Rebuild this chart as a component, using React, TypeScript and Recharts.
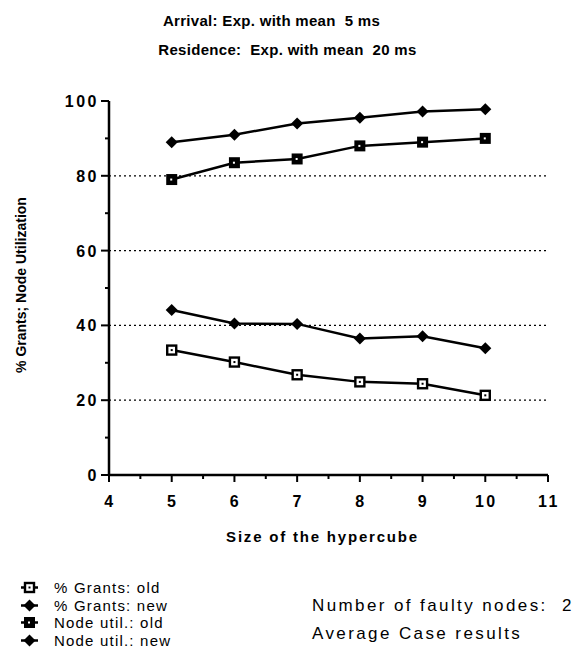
import React from 'react';
import { LineChart, Line, XAxis, YAxis, ReferenceLine, Legend, Label } from 'recharts';

const sizes = [5, 6, 7, 8, 9, 10];
const grantsOld = [33.4, 30.2, 26.8, 24.9, 24.4, 21.3];
const grantsNew = [44.1, 40.5, 40.4, 36.5, 37.1, 33.9];
const nodeOld = [79, 83.5, 84.5, 88, 89, 90];
const nodeNew = [89, 91, 94, 95.5, 97.2, 97.8];

const xTicks = [4, 4.5, 5, 5.5, 6, 6.5, 7, 7.5, 8, 8.5, 9, 9.5, 10, 10.5, 11];
const xMajor = [4, 5, 6, 7, 8, 9, 10, 11];
const yTicks = [0, 10, 20, 30, 40, 50, 60, 70, 80, 90, 100];
const yMajor = [0, 20, 40, 60, 80, 100];
const gridValues = [20, 40, 60, 80];

const seriesKeys = ['grantsOld', 'grantsNew', 'nodeOld', 'nodeNew'];
const seriesNames = ['% Grants: old', '% Grants: new', 'Node util.: old', 'Node util.: new'];
const seriesMarkers = ['squareLight', 'diamond', 'squareDark', 'diamond'];

const titleLines = ['Arrival: Exp. with mean  5 ms', 'Residence:  Exp. with mean  20 ms'];
const notes = ['Number of faulty nodes:  2', 'Average Case results'];
const xLabel = 'Size of the hypercube';
const yLabel = '% Grants; Node Utilization';

const data = sizes.map((s, i) => ({
  size: s,
  grantsOld: grantsOld[i],
  grantsNew: grantsNew[i],
  nodeOld: nodeOld[i],
  nodeNew: nodeNew[i],
}));

const FONT = '"Liberation Sans", Arial, Helvetica, sans-serif';

const Marker = ({ kind, cx, cy }: { kind: string; cx: number; cy: number }) => {
  if (kind === 'diamond') {
    const r = 6;
    return <polygon points={`${cx},${cy - r} ${cx + r},${cy} ${cx},${cy + r} ${cx - r},${cy}`} fill="#000" />;
  }
  if (kind === 'squareDark') {
    return (
      <g>
        <rect x={cx - 5.5} y={cy - 5.5} width={11} height={11} fill="#000" />
        <rect x={cx - 1.5} y={cy - 1} width={2} height={2} fill="#fff" />
      </g>
    );
  }
  return (
    <g>
      <rect x={cx - 4.5} y={cy - 4.5} width={9} height={9} fill="#fff" stroke="#000" strokeWidth={2.4} />
      <rect x={cx - 1} y={cy - 1} width={2} height={2} fill="#000" />
    </g>
  );
};

const makeDot = (kind: string) => (props: any) => {
  const { cx, cy, index } = props;
  if (cx == null || cy == null) return <g key={index} />;
  return <Marker key={index} kind={kind} cx={cx} cy={cy} />;
};

const XTick = (props: any) => {
  const { x, y, payload } = props;
  const v = payload.value;
  const major = xMajor.includes(v);
  return (
    <g>
      <line x1={x} x2={x} y1={y} y2={y + (major ? 7 : 4)} stroke="#000" strokeWidth={2} />
      {major && (
        <text x={x + 1} y={y + 32} textAnchor="middle" fontFamily={FONT} fontWeight="bold" fontSize={16} letterSpacing={2.5} fill="#000">
          {v}
        </text>
      )}
    </g>
  );
};

const YTick = (props: any) => {
  const { x, y, payload } = props;
  const v = payload.value;
  const major = yMajor.includes(v);
  return (
    <g>
      <line x1={x} x2={x - (major ? 8 : 4)} y1={y} y2={y} stroke="#000" strokeWidth={2} />
      {major && (
        <text x={x - 10} y={y + 6} textAnchor="end" fontFamily={FONT} fontWeight="bold" fontSize={16} letterSpacing={2.5} fill="#000">
          {v}
        </text>
      )}
    </g>
  );
};

const LegendContent = (props: any) => {
  const payload = [...(props.payload || [])].sort(
    (a: any, b: any) => seriesKeys.indexOf(a.dataKey) - seriesKeys.indexOf(b.dataKey)
  );
  return (
    <div style={{ fontFamily: FONT }}>
      {payload.map((item: any, i: number) => {
        const idx = seriesKeys.indexOf(item.dataKey);
        return (
          <div key={i} style={{ display: 'flex', alignItems: 'center', height: 17.5 }}>
            <svg width={41} height={17} style={{ display: 'block' }}>
              <line x1={8} x2={25} y1={8.5} y2={8.5} stroke="#000" strokeWidth={2.5} />
              <Marker kind={seriesMarkers[idx]} cx={16.5} cy={8.5} />
            </svg>
            <span style={{ fontSize: 15, letterSpacing: 1.2, color: '#000', whiteSpace: 'pre' }}>{item.value}</span>
          </div>
        );
      })}
    </div>
  );
};

const YLabelContent = (props: any) => {
  const { viewBox } = props;
  const cx = 21;
  const cy = viewBox.y + viewBox.height / 2 - 3;
  return (
    <text
      x={cx}
      y={cy}
      transform={`rotate(-90, ${cx}, ${cy})`}
      textAnchor="middle"
      dominantBaseline="central"
      fontFamily={FONT}
      fontWeight="bold"
      fontSize={14}
      letterSpacing={0}
      fill="#000"
    >
      {yLabel}
    </text>
  );
};

const XLabelContent = (props: any) => {
  const { viewBox } = props;
  const cx = viewBox.x + viewBox.width / 2 - 6;
  const cy = viewBox.y + 67;
  return (
    <text x={cx} y={cy} textAnchor="middle" fontFamily={FONT} fontWeight="bold" fontSize={15} letterSpacing={1.8} fill="#000">
      {xLabel}
    </text>
  );
};

const titleStyle: React.CSSProperties = {
  position: 'absolute',
  left: 0,
  textAlign: 'center',
  fontFamily: FONT,
  fontWeight: 'bold',
  fontSize: 15,
  letterSpacing: 0.3,
  whiteSpace: 'pre',
  lineHeight: '20px',
};

const noteStyle: React.CSSProperties = {
  position: 'absolute',
  left: 312,
  fontFamily: FONT,
  fontSize: 17,
  letterSpacing: 2.4,
  whiteSpace: 'pre',
  lineHeight: '20px',
};

export default function App() {
  return (
    <div style={{ position: 'absolute', left: 0, top: 0, width: 576, height: 661, background: '#fff', overflow: 'hidden' }}>
      <div style={{ ...titleStyle, width: 543, top: 11 }}>{titleLines[0]}</div>
      <div style={{ ...titleStyle, width: 575, top: 40 }}>{titleLines[1]}</div>
      <LineChart width={576} height={661} data={data} margin={{ top: 101, right: 28, left: 0, bottom: 106 }}>
        {gridValues.map((g) => (
          <ReferenceLine key={g} y={g} stroke="#000" strokeWidth={1.3} strokeDasharray="2 3" />
        ))}
        <XAxis
          dataKey="size"
          type="number"
          domain={[4, 11]}
          ticks={xTicks}
          interval={0}
          height={80}
          tickSize={0}
          tickMargin={0}
          tickLine={false}
          tick={<XTick />}
          axisLine={{ stroke: '#000', strokeWidth: 2.5 }}
        >
          <Label content={<XLabelContent />} />
        </XAxis>
        <YAxis
          type="number"
          domain={[0, 100]}
          ticks={yTicks}
          interval={0}
          width={109}
          tickSize={0}
          tickMargin={0}
          tickLine={false}
          tick={<YTick />}
          axisLine={{ stroke: '#000', strokeWidth: 2.5 }}
        >
          <Label content={<YLabelContent />} />
        </YAxis>
        {seriesKeys.map((k, i) => (
          <Line
            key={k}
            dataKey={k}
            name={seriesNames[i]}
            stroke="#000"
            strokeWidth={2.5}
            dot={makeDot(seriesMarkers[i])}
            activeDot={false}
            isAnimationActive={false}
          />
        ))}
        <Legend
          layout="vertical"
          align="center"
          verticalAlign="middle"
          wrapperStyle={{ left: 13, top: 579, width: 220 }}
          content={<LegendContent />}
        />
      </LineChart>
      <div style={{ ...noteStyle, top: 596 }}>{notes[0]}</div>
      <div style={{ ...noteStyle, top: 624 }}>{notes[1]}</div>
    </div>
  );
}
